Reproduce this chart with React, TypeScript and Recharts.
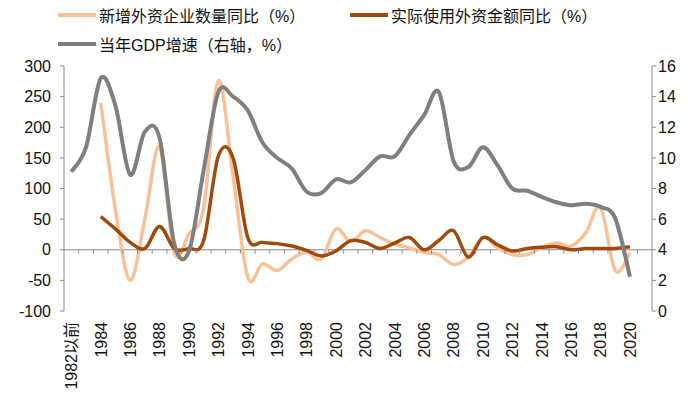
import React from 'react';
import {
  ComposedChart,
  Line,
  XAxis,
  YAxis,
  ReferenceLine,
} from 'recharts';

// 横轴类别（末尾留一个空位，让右轴与最后一年之间有间距）
const categories = [
  '1982以前', '1983', '1984', '1985', '1986', '1987', '1988', '1989', '1990',
  '1991', '1992', '1993', '1994', '1995', '1996', '1997', '1998', '1999', '2000',
  '2001', '2002', '2003', '2004', '2005', '2006', '2007', '2008', '2009', '2010',
  '2011', '2012', '2013', '2014', '2015', '2016', '2017', '2018', '2019', '2020', '',
];

// 新增外资企业数量同比（%）
const newFirms = [
  null, null, 240, 65, -50, 50, 168, -5, 26, 68, 276, 120, -45, -23, -34, -15, -4,
  -15, 34, 13, 31, 20, 9, 3, -4, -8, -24, -12, 20, 3, -8, -8, 4, 11, 6, 28, 69,
  -34, -5, null,
];

// 实际使用外资金额同比（%）
const fdiUsed = [
  null, null, 54, 34, 12, 2, 38, 2, 2, 15, 153, 150, 20, 12, 10, 6, -1, -10, -2,
  15, 12, 2, 11, 20, 0, 15, 31, -12, 20, 8, -2, 2, 4, 5, 0, 2, 2, 2, 5, null,
];

// 当年GDP增速（右轴，%）
const gdpGrowth = [
  9.1, 10.7, 15.2, 13.4, 8.9, 11.7, 11.3, 4.4, 3.9, 9.2, 14.3, 14.0, 13.1, 11.0,
  10.0, 9.3, 7.8, 7.7, 8.6, 8.4, 9.2, 10.1, 10.1, 11.5, 12.8, 14.3, 9.8, 9.4,
  10.7, 9.5, 8.0, 7.85, 7.45, 7.1, 6.9, 7.0, 6.8, 6.05, 2.24, null,
];

const leftTicks = [-100, -50, 0, 50, 100, 150, 200, 250, 300];
const rightTicks = [0, 2, 4, 6, 8, 10, 12, 14, 16];

const data = categories.map((year, i) => ({
  year,
  newFirms: newFirms[i],
  fdiUsed: fdiUsed[i],
  gdp: gdpGrowth[i],
}));

const W = 700;
const H = 407;
const TOP = 66;
const LEFT_W = 64;
const RIGHT_W = 48;
const X_H = 96;
const PLOT_W = W - LEFT_W - RIGHT_W;
const PLOT_H = H - TOP - X_H;
const BAND = PLOT_W / categories.length;
const ZERO_Y = TOP + (PLOT_H * leftTicks[leftTicks.length - 1]) / (leftTicks[leftTicks.length - 1] - leftTicks[0]);

const FONT = '"Liberation Sans", Arial, "Noto Sans CJK SC", sans-serif';
const AXIS = '#8a8a8a';
const ORANGE = '#f8c299';
const BROWN = '#9e4a0d';
const GRAY = '#7f7f7f';

// Excel 风格平滑线（Catmull-Rom）
const excelSmooth = (context: any) => {
  let pts: [number, number][] = [];
  return {
    areaStart() {},
    areaEnd() {},
    lineStart() {
      pts = [];
    },
    lineEnd() {
      const n = pts.length;
      if (!n) return;
      context.moveTo(pts[0][0], pts[0][1]);
      for (let i = 0; i < n - 1; i++) {
        const p0 = pts[Math.max(0, i - 1)];
        const p1 = pts[i];
        const p2 = pts[i + 1];
        const p3 = pts[Math.min(n - 1, i + 2)];
        context.bezierCurveTo(
          p1[0] + (p2[0] - p0[0]) / 6,
          p1[1] + (p2[1] - p0[1]) / 6,
          p2[0] - (p3[0] - p1[0]) / 6,
          p2[1] - (p3[1] - p1[1]) / 6,
          p2[0],
          p2[1]
        );
      }
    },
    point(x: number, y: number) {
      pts.push([+x, +y]);
    },
  };
};

const XTick = (props: any) => {
  const { x, payload, index } = props;
  const last = index >= categories.length - 1;
  return (
    <g>
      {!last && (
        <line x1={x + BAND / 2} x2={x + BAND / 2} y1={ZERO_Y} y2={ZERO_Y + 4} stroke={AXIS} strokeWidth={1} />
      )}
      {index % 2 === 0 && !last && (
        <text
          x={x}
          y={TOP + PLOT_H + 11}
          transform={`rotate(-90, ${x}, ${TOP + PLOT_H + 11})`}
          textAnchor="end"
          dy="0.36em"
          fontSize={16}
          fontFamily={FONT}
          fill="#111"
        >
          {payload.value}
        </text>
      )}
    </g>
  );
};

const legendItems = [
  { label: '新增外资企业数量同比（%）', color: ORANGE, left: 58, top: 4 },
  { label: '实际使用外资金额同比（%）', color: BROWN, left: 350, top: 4 },
  { label: '当年GDP增速（右轴，%）', color: GRAY, left: 58, top: 33 },
];

export default function App() {
  return (
    <div style={{ position: 'absolute', left: 0, top: 0, width: W, height: H, background: '#fff', fontFamily: FONT }}>
      {legendItems.map((it) => (
        <div
          key={it.label}
          style={{ position: 'absolute', left: it.left, top: it.top, display: 'flex', alignItems: 'center', height: 22 }}
        >
          <span style={{ display: 'inline-block', width: 38, height: 4, background: it.color, marginRight: 3 }} />
          <span style={{ fontSize: 16, color: '#111', whiteSpace: 'nowrap' }}>{it.label}</span>
        </div>
      ))}
      <ComposedChart width={W} height={H} data={data} margin={{ top: TOP, right: 0, bottom: 0, left: 0 }}>
        <XAxis
          dataKey="year"
          scale="band"
          interval={0}
          height={X_H}
          axisLine={false}
          tickLine={false}
          tick={<XTick />}
        />
        <YAxis
          yAxisId="left"
          width={LEFT_W}
          domain={[-100, 300]}
          ticks={leftTicks}
          interval={0}
          axisLine={{ stroke: AXIS }}
          tickLine={{ stroke: AXIS }}
          tickSize={4}
          tickMargin={9}
          tick={{ fontSize: 16, fill: '#111', fontFamily: FONT }}
        />
        <YAxis
          yAxisId="right"
          orientation="right"
          width={RIGHT_W}
          domain={[0, 16]}
          ticks={rightTicks}
          interval={0}
          axisLine={{ stroke: AXIS }}
          tickLine={{ stroke: AXIS }}
          tickSize={4}
          tickMargin={2}
          tick={{ fontSize: 16, fill: '#111', fontFamily: FONT }}
        />
        <ReferenceLine yAxisId="left" y={0} stroke={AXIS} strokeWidth={1} />
        <Line
          yAxisId="left"
          dataKey="newFirms"
          type={excelSmooth as any}
          stroke={ORANGE}
          strokeWidth={3.5}
          dot={false}
          activeDot={false}
          isAnimationActive={false}
        />
        <Line
          yAxisId="left"
          dataKey="fdiUsed"
          type={excelSmooth as any}
          stroke={BROWN}
          strokeWidth={3.5}
          dot={false}
          activeDot={false}
          isAnimationActive={false}
        />
        <Line
          yAxisId="right"
          dataKey="gdp"
          type={excelSmooth as any}
          stroke={GRAY}
          strokeWidth={4}
          dot={false}
          activeDot={false}
          isAnimationActive={false}
        />
      </ComposedChart>
    </div>
  );
}
